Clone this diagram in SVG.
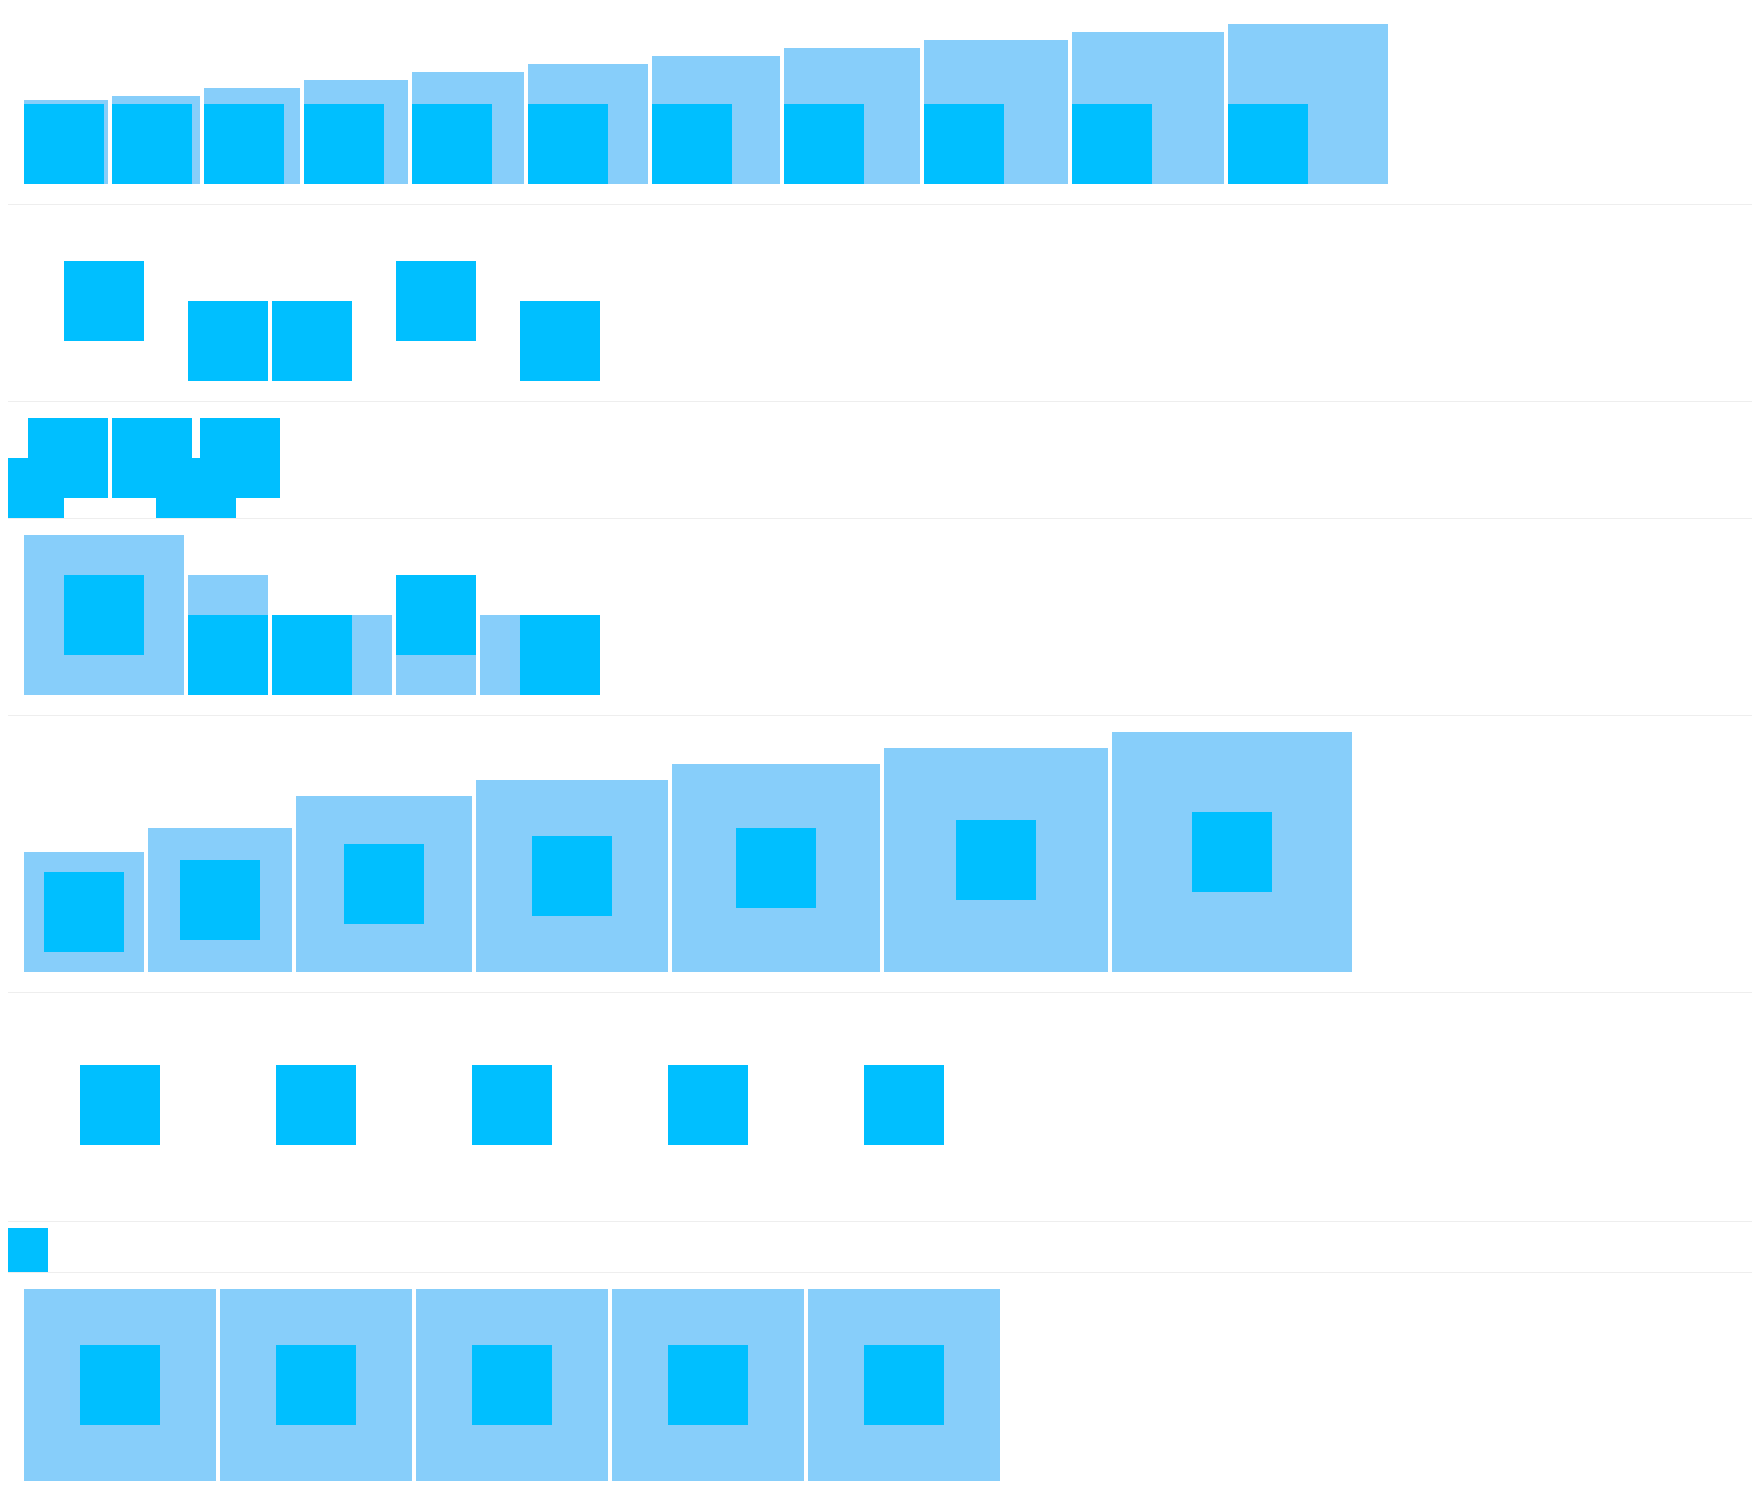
<svg xmlns="http://www.w3.org/2000/svg" width="1760" height="1509" viewBox="0 0 1760 1509">
<style>
.l{fill:#87CEFA}
.d{fill:#00BFFF}
.sep{fill:#eeeeee}
</style>
<defs>
<clipPath id="clip3"><rect x="8" y="402" width="1744" height="116"/></clipPath>
</defs>
<rect width="1760" height="1509" fill="#ffffff"/>
<g id="separators">
<rect class="sep" x="8" y="204" width="1744" height="1"/>
<rect class="sep" x="8" y="401" width="1744" height="1"/>
<rect class="sep" x="8" y="518" width="1744" height="1"/>
<rect class="sep" x="8" y="715" width="1744" height="1"/>
<rect class="sep" x="8" y="992" width="1744" height="1"/>
<rect class="sep" x="8" y="1221" width="1744" height="1"/>
<rect class="sep" x="8" y="1272" width="1744" height="1"/>
</g>
<g id="row1">
<g id="r1b1"><rect class="l" x="24" y="100" width="84" height="84"/><rect class="d" x="24" y="104" width="80" height="80"/></g>
<g id="r1b2"><rect class="l" x="112" y="96" width="88" height="88"/><rect class="d" x="112" y="104" width="80" height="80"/></g>
<g id="r1b3"><rect class="l" x="204" y="88" width="96" height="96"/><rect class="d" x="204" y="104" width="80" height="80"/></g>
<g id="r1b4"><rect class="l" x="304" y="80" width="104" height="104"/><rect class="d" x="304" y="104" width="80" height="80"/></g>
<g id="r1b5"><rect class="l" x="412" y="72" width="112" height="112"/><rect class="d" x="412" y="104" width="80" height="80"/></g>
<g id="r1b6"><rect class="l" x="528" y="64" width="120" height="120"/><rect class="d" x="528" y="104" width="80" height="80"/></g>
<g id="r1b7"><rect class="l" x="652" y="56" width="128" height="128"/><rect class="d" x="652" y="104" width="80" height="80"/></g>
<g id="r1b8"><rect class="l" x="784" y="48" width="136" height="136"/><rect class="d" x="784" y="104" width="80" height="80"/></g>
<g id="r1b9"><rect class="l" x="924" y="40" width="144" height="144"/><rect class="d" x="924" y="104" width="80" height="80"/></g>
<g id="r1b10"><rect class="l" x="1072" y="32" width="152" height="152"/><rect class="d" x="1072" y="104" width="80" height="80"/></g>
<g id="r1b11"><rect class="l" x="1228" y="24" width="160" height="160"/><rect class="d" x="1228" y="104" width="80" height="80"/></g>
</g>
<g id="row2">
<rect id="r2b1" class="d" x="64" y="261" width="80" height="80"/>
<rect id="r2b2" class="d" x="188" y="301" width="80" height="80"/>
<rect id="r2b3" class="d" x="272" y="301" width="80" height="80"/>
<rect id="r2b4" class="d" x="396" y="261" width="80" height="80"/>
<rect id="r2b5" class="d" x="520" y="301" width="80" height="80"/>
</g>
<g id="row3" clip-path="url(#clip3)">
<rect id="r3b1" class="d" x="-16" y="458" width="80" height="80"/>
<rect id="r3b2" class="d" x="28" y="418" width="80" height="80"/>
<rect id="r3b3" class="d" x="112" y="418" width="80" height="80"/>
<rect id="r3b4" class="d" x="156" y="458" width="80" height="80"/>
<rect id="r3b5" class="d" x="200" y="418" width="80" height="80"/>
</g>
<g id="row4">
<g id="r4b1"><rect class="l" x="24" y="535" width="160" height="160"/><rect class="d" x="64" y="575" width="80" height="80"/></g>
<g id="r4b2"><rect class="l" x="188" y="575" width="80" height="120"/><rect class="d" x="188" y="615" width="80" height="80"/></g>
<g id="r4b3"><rect class="l" x="272" y="615" width="120" height="80"/><rect class="d" x="272" y="615" width="80" height="80"/></g>
<g id="r4b4"><rect class="l" x="396" y="575" width="80" height="120"/><rect class="d" x="396" y="575" width="80" height="80"/></g>
<g id="r4b5"><rect class="l" x="480" y="615" width="120" height="80"/><rect class="d" x="520" y="615" width="80" height="80"/></g>
</g>
<g id="row5">
<g id="r5b1"><rect class="l" x="24" y="852" width="120" height="120"/><rect class="d" x="44" y="872" width="80" height="80"/></g>
<g id="r5b2"><rect class="l" x="148" y="828" width="144" height="144"/><rect class="d" x="180" y="860" width="80" height="80"/></g>
<g id="r5b3"><rect class="l" x="296" y="796" width="176" height="176"/><rect class="d" x="344" y="844" width="80" height="80"/></g>
<g id="r5b4"><rect class="l" x="476" y="780" width="192" height="192"/><rect class="d" x="532" y="836" width="80" height="80"/></g>
<g id="r5b5"><rect class="l" x="672" y="764" width="208" height="208"/><rect class="d" x="736" y="828" width="80" height="80"/></g>
<g id="r5b6"><rect class="l" x="884" y="748" width="224" height="224"/><rect class="d" x="956" y="820" width="80" height="80"/></g>
<g id="r5b7"><rect class="l" x="1112" y="732" width="240" height="240"/><rect class="d" x="1192" y="812" width="80" height="80"/></g>
</g>
<g id="row6">
<rect id="r6b1" class="d" x="80" y="1065" width="80" height="80"/>
<rect id="r6b2" class="d" x="276" y="1065" width="80" height="80"/>
<rect id="r6b3" class="d" x="472" y="1065" width="80" height="80"/>
<rect id="r6b4" class="d" x="668" y="1065" width="80" height="80"/>
<rect id="r6b5" class="d" x="864" y="1065" width="80" height="80"/>
</g>
<g id="row7">
<rect id="r7b1" class="d" x="8" y="1228" width="40" height="44"/>
</g>
<g id="row8">
<g id="r8b1"><rect class="l" x="24" y="1289" width="192" height="192"/><rect class="d" x="80" y="1345" width="80" height="80"/></g>
<g id="r8b2"><rect class="l" x="220" y="1289" width="192" height="192"/><rect class="d" x="276" y="1345" width="80" height="80"/></g>
<g id="r8b3"><rect class="l" x="416" y="1289" width="192" height="192"/><rect class="d" x="472" y="1345" width="80" height="80"/></g>
<g id="r8b4"><rect class="l" x="612" y="1289" width="192" height="192"/><rect class="d" x="668" y="1345" width="80" height="80"/></g>
<g id="r8b5"><rect class="l" x="808" y="1289" width="192" height="192"/><rect class="d" x="864" y="1345" width="80" height="80"/></g>
</g>
</svg>
